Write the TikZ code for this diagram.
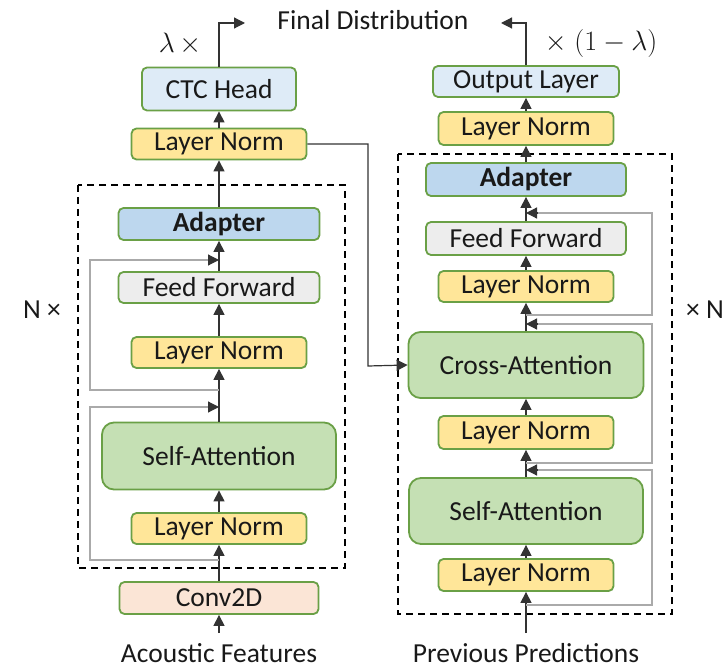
\RequirePackage{fix-cm}
\documentclass[tikz,border=0pt]{standalone}
\usepackage{fontspec}
\setmainfont{Carlito}
\usetikzlibrary{arrows.meta}
\definecolor{bord}{RGB}{106,160,70}
\definecolor{lnfill}{RGB}{255,230,153}
\definecolor{headfill}{RGB}{222,235,247}
\definecolor{adfill}{RGB}{189,215,238}
\definecolor{fffill}{RGB}{237,237,237}
\definecolor{attfill}{RGB}{197,224,180}
\definecolor{convfill}{RGB}{251,229,214}
\definecolor{resgray}{RGB}{170,170,170}
\tikzset{
  blk/.style={draw=bord, line width=1.8pt, rounded corners=5pt, inner sep=0pt,
    font=\fontsize{27.5}{32}\selectfont, text=black!90},
  lnbox/.style={blk, fill=lnfill, minimum width=175pt, minimum height=31pt},
  attbox/.style={blk, fill=attfill, minimum width=234pt, minimum height=67pt, rounded corners=12pt},
  arr/.style={line width=1.2pt, draw=black!80, -{Triangle[length=11pt,width=11pt]}},
  resline/.style={line width=1.2pt, draw=resgray},
  dbox/.style={draw=black, line width=1.6pt, dash pattern=on 7pt off 5pt},
  lbl/.style={font=\fontsize{27.5}{32}\selectfont, text=black!90, inner sep=0pt},
  mlbl/.style={font=\fontsize{28}{32}\selectfont, text=black!90, inner sep=0pt}
}
\begin{document}
\begin{tikzpicture}[x=1pt,y=-1pt]
\useasboundingbox (0,0) rectangle (728,668);
% dashed frames
\draw[dbox] (78,185) rectangle (345,568);
\draw[dbox] (398,154) rectangle (672,614);
% left column
\node[blk, fill=headfill, minimum width=154pt, minimum height=43pt] (ctc) at (219,89) {CTC Head};
\node[lnbox] (lnT) at (219,144) {Layer Norm};
\node[blk, fill=adfill, minimum width=201pt, minimum height=32pt] (adL) at (219,224) {\bfseries Adapter};
\node[blk, fill=fffill, minimum width=201pt, minimum height=31pt] (ffL) at (219,287.5) {Feed Forward};
\node[lnbox] (lnL2) at (219,352.5) {Layer Norm};
\node[attbox] (saL) at (219,456) {Self-Attention};
\node[lnbox] (lnL1) at (219,528.5) {Layer Norm};
\node[blk, fill=convfill, minimum width=199pt, minimum height=32pt] (conv) at (219,598) {Conv2D};
\node[lbl] (acf) at (219,653) {Acoustic Features};
% right column
\node[blk, fill=headfill, minimum width=186pt, minimum height=31pt] (out) at (526,81.5) {Output Layer};
\node[lnbox, minimum height=33pt] (lnR4) at (526,128.5) {Layer Norm};
\node[blk, fill=adfill, minimum width=200pt, minimum height=33pt] (adR) at (526,179.5) {\bfseries Adapter};
\node[blk, fill=fffill, minimum width=200pt, minimum height=33pt] (ffR) at (526,238.5) {Feed Forward};
\node[lnbox] (lnR3) at (526,286.5) {Layer Norm};
\node[attbox, minimum width=235pt, minimum height=66pt] (caR) at (526,365) {Cross-Attention};
\node[lnbox, minimum height=33pt] (lnR2) at (526,432.5) {Layer Norm};
\node[attbox, minimum height=66pt] (saR) at (526,511) {Self-Attention};
\node[lnbox, minimum height=32pt] (lnR1) at (526,575) {Layer Norm};
\node[lbl] (prv) at (526,653) {Previous Predictions};
% labels
\node[lbl] (fd) at (373,20) {Final Distribution};
\node[mlbl] (lam) at (180,44) {$\lambda\,\times$};
\node[mlbl] (olam) at (601,44) {$\times\;(1-\lambda)$};
\node[lbl] (nl) at (42,310) {N ×};
\node[lbl] (nr) at (705,310) {× N};
% coordinates
\coordinate (inL) at (219,633);
\coordinate (inR) at (526,633);
\coordinate (fdL) at (245,23);
\coordinate (fdR) at (501,23);
% left main flow
\draw[arr] (inL) -- (conv.south);
\draw[arr] (conv.north) -- (lnL1.south);
\draw[arr] (lnL1.north) -- (saL.south);
\draw[arr] (saL.north) -- (lnL2.south);
\draw[arr] (lnL2.north) -- (ffL.south);
\draw[arr] (ffL.north) -- (adL.south);
\draw[arr] (adL.north) -- (lnT.south);
\draw[arr] (lnT.north) -- (ctc.south);
\draw[arr] (ctc.north) |- (fdL);
% left residuals
\coordinate (rl1a) at (219,560); \coordinate (rl1b) at (219,407);
\coordinate (rl2a) at (219,390); \coordinate (rl2b) at (219,260);
\draw[resline] (rl1a) -- (90,560) -- (90,407) -- ([xshift=-9pt]rl1b);
\draw[arr] ([xshift=-11pt]rl1b) -- (rl1b);
\draw[resline] (rl2a) -- (90,390) -- (90,260) -- ([xshift=-9pt]rl2b);
\draw[arr] ([xshift=-11pt]rl2b) -- (rl2b);
% cross connection
\draw[arr] (lnT.east) -- (368,144) -- (368,366) -- (caR.west);
% right main flow
\draw[arr] (inR) -- (lnR1.south);
\draw[arr] (lnR1.north) -- (saR.south);
\draw[arr] (saR.north) -- (lnR2.south);
\draw[arr] (lnR2.north) -- (caR.south);
\draw[arr] (caR.north) -- (lnR3.south);
\draw[arr] (lnR3.north) -- (ffR.south);
\draw[arr] (ffR.north) -- (adR.south);
\draw[arr] (adR.north) -- (lnR4.south);
\draw[arr] (lnR4.north) -- (out.south);
\draw[arr] (out.north) |- (fdR);
% right residuals
\coordinate (rr1a) at (526,605); \coordinate (rr1b) at (526,470);
\coordinate (rr2a) at (526,463); \coordinate (rr2b) at (526,324);
\coordinate (rr3a) at (526,315); \coordinate (rr3b) at (526,213);
\draw[resline] (rr1a) -- (652,605) -- (652,470) -- ([xshift=9pt]rr1b);
\draw[arr] ([xshift=11pt]rr1b) -- (rr1b);
\draw[resline] (rr2a) -- (652,463) -- (652,324) -- ([xshift=9pt]rr2b);
\draw[arr] ([xshift=11pt]rr2b) -- (rr2b);
\draw[resline] (rr3a) -- (652,315) -- (652,213) -- ([xshift=9pt]rr3b);
\draw[arr] ([xshift=11pt]rr3b) -- (rr3b);
\end{tikzpicture}
\end{document}
